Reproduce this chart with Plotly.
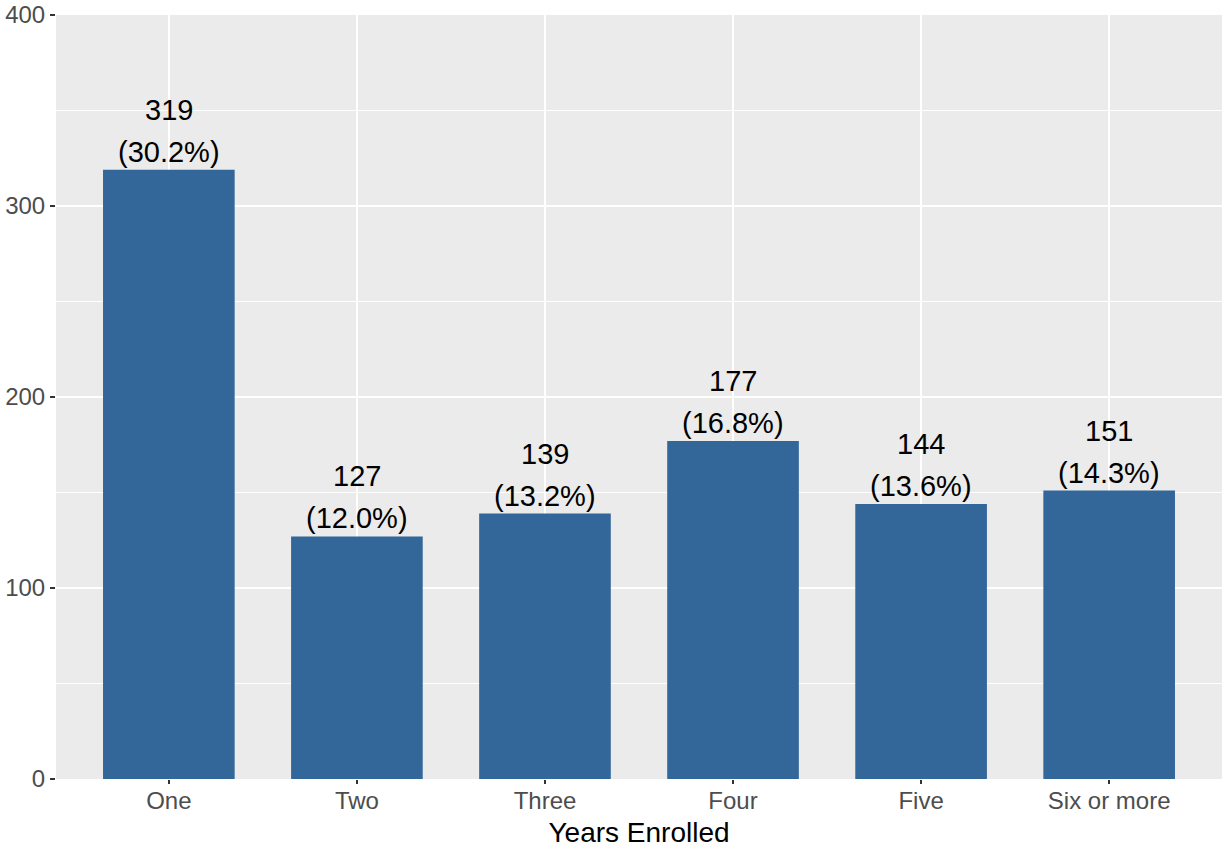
import plotly.graph_objects as go

categories = ["One", "Two", "Three", "Four", "Five", "Six or more"]
counts = [319, 127, 139, 177, 144, 151]
percent_labels = ["30.2%", "12.0%", "13.2%", "16.8%", "13.6%", "14.3%"]
y_ticks = [0, 100, 200, 300, 400]

FONT = "Liberation Sans, Arial, sans-serif"

fig = go.Figure(
    go.Bar(
        x=categories,
        y=counts,
        marker=dict(color="#336699", line=dict(width=0)),
        width=0.7,
        hoverinfo="x+y",
    )
)

for cat, cnt, pct in zip(categories, counts, percent_labels):
    fig.add_annotation(
        x=cat, y=cnt, text=f"({pct})", showarrow=False,
        yanchor="middle", yshift=18,
        font=dict(family=FONT, size=29, color="black"),
    )
    fig.add_annotation(
        x=cat, y=cnt, text=f"{cnt}", showarrow=False,
        yanchor="middle", yshift=60,
        font=dict(family=FONT, size=29, color="black"),
    )

fig.update_layout(
    width=1223,
    height=848,
    margin=dict(l=56, r=1, t=15, b=69, autoexpand=False),
    paper_bgcolor="white",
    plot_bgcolor="#EBEBEB",
    showlegend=False,
    font=dict(family=FONT),
)

fig.update_xaxes(
    range=[-0.6, 5.6],
    automargin=False,
    showgrid=True,
    gridcolor="white",
    gridwidth=2.4,
    ticks="outside",
    ticklen=4,
    tickwidth=1.5,
    tickcolor="#333333",
    ticklabelstandoff=-4,
    tickfont=dict(size=24, color="#4D4D4D"),
    title=dict(text="Years Enrolled", font=dict(size=28, color="black"), standoff=9),
    zeroline=False,
    showline=False,
)

fig.update_yaxes(
    range=[0, 400],
    automargin=False,
    tickvals=y_ticks,
    showgrid=True,
    gridcolor="white",
    gridwidth=2.4,
    minor=dict(dtick=50, showgrid=True, gridcolor="white", gridwidth=1.2),
    ticks="outside",
    ticklen=5,
    tickwidth=1.5,
    tickcolor="#333333",
    tickfont=dict(size=24, color="#4D4D4D"),
    zeroline=False,
    showline=False,
)

fig.write_html(
    "out.html",
    config={"displayModeBar": False},
    post_script="document.body.style.margin='0';document.body.style.overflow='hidden';",
)
